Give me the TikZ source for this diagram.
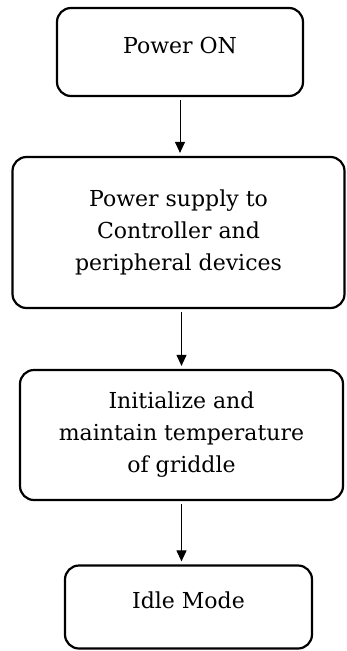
\documentclass[tikz,border=0pt]{standalone}
\usepackage{fontspec}
\setmainfont{DejaVu Serif}
\usepackage{tikz}
\usetikzlibrary{arrows.meta}

\begin{document}
\begin{tikzpicture}[x=1pt,y=-1pt,
        stage/.style={draw, line width=2.2pt, rounded corners=14pt, align=center,
            font=\fontsize{22}{32}\selectfont, inner sep=0pt},
        flow/.style={-{Triangle[length=11pt,width=10pt]}, line width=1pt,
            shorten <=3pt, shorten >=3pt}]
            \useasboundingbox (0,0) rectangle (346,651);
            \node[stage, text depth=14pt, minimum width=246, minimum height=88] (pon) at (180,52) {Power ON};
            \node[stage, minimum width=332, minimum height=151] (supply) at (178.5,232.5)
                {Power supply to\\Controller and\\peripheral devices};
            \node[stage, minimum width=323, minimum height=130] (init) at (181.5,435)
                {Initialize and\\maintain temperature\\of griddle};
            \node[stage, text depth=14pt, minimum width=247, minimum height=83] (idle) at (188.5,607) {Idle Mode};
            \draw[flow] (pon.south) -- (pon.south |- supply.north);
            \draw[flow] (init.north |- supply.south) -- (init.north);
            \draw[flow] (init.south) -- (init.south |- idle.north);
        \end{tikzpicture}
\end{document}
